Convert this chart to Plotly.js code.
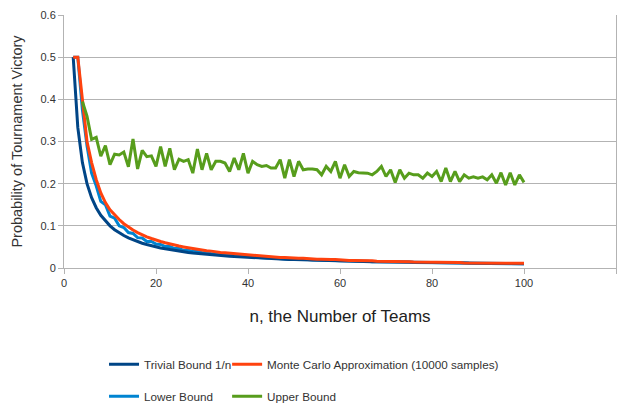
<!DOCTYPE html>
<html>
<head>
<meta charset="utf-8">
<script src="https://cdn.plot.ly/plotly-3.0.1.min.js"></script>
<style>html,body{margin:0;padding:0;background:#fff;}#chart{width:624px;height:404px;}</style>
</head>
<body>
<div id="chart"></div>
<script>
const nTeams = [2,3,4,5,6,7,8,9,10,11,12,13,14,15,16,17,18,19,20,21,22,23,24,25,26,27,28,29,30,31,32,33,34,35,36,37,38,39,40,41,42,43,44,45,46,47,48,49,50,51,52,53,54,55,56,57,58,59,60,61,62,63,64,65,66,67,68,69,70,71,72,73,74,75,76,77,78,79,80,81,82,83,84,85,86,87,88,89,90,91,92,93,94,95,96,97,98,99,100];

const trivialBound = [0.5,0.3333,0.25,0.2,0.1667,0.1429,0.125,0.1111,0.1,0.0909,0.0833,0.0769,0.0714,0.0667,0.0625,0.0588,0.0556,0.0526,0.05,0.0476,0.0455,0.0435,0.0417,0.04,0.0385,0.037,0.0357,0.0345,0.0333,0.0323,0.0313,0.0303,0.0294,0.0286,0.0278,0.027,0.0263,0.0256,0.025,0.0244,0.0238,0.0233,0.0227,0.0222,0.0217,0.0213,0.0208,0.0204,0.02,0.0196,0.0192,0.0189,0.0185,0.0182,0.0179,0.0175,0.0172,0.0169,0.0167,0.0164,0.0161,0.0159,0.0156,0.0154,0.0152,0.0149,0.0147,0.0145,0.0143,0.0141,0.0139,0.0137,0.0135,0.0133,0.0132,0.013,0.0128,0.0127,0.0125,0.0123,0.0122,0.012,0.0119,0.0118,0.0116,0.0115,0.0114,0.0112,0.0111,0.011,0.0109,0.0108,0.0107,0.0106,0.0105,0.0104,0.0103,0.0102,0.0101];

const monteCarlo = [0.5,0.5,0.40,0.30,0.25,0.21,0.178,0.155,0.138,0.126,0.115,0.105,0.097,0.090,0.084,0.078,0.074,0.070,0.066,0.063,0.060,0.057,0.055,0.052,0.050,0.048,0.046,0.044,0.043,0.041,0.040,0.038,0.037,0.036,0.035,0.034,0.033,0.032,0.031,0.030,0.029,0.028,0.027,0.027,0.026,0.025,0.025,0.024,0.024,0.023,0.023,0.022,0.022,0.021,0.021,0.020,0.020,0.020,0.019,0.019,0.018,0.018,0.018,0.017,0.017,0.017,0.016,0.016,0.016,0.016,0.015,0.015,0.015,0.015,0.014,0.014,0.014,0.014,0.014,0.013,0.013,0.013,0.013,0.013,0.013,0.012,0.012,0.012,0.012,0.012,0.012,0.012,0.011,0.011,0.011,0.011,0.011,0.011,0.011];

const lowerBound = [0.5,0.5,0.375,0.29,0.225,0.195,0.158,0.150,0.123,0.118,0.100,0.096,0.084,0.082,0.072,0.071,0.063,0.063,0.057,0.056,0.051,0.051,0.046,0.046,0.042,0.042,0.039,0.039,0.036,0.036,0.034,0.034,0.032,0.032,0.030,0.030,0.028,0.028,0.027,0.026,0.025,0.025,0.024,0.024,0.023,0.022,0.022,0.021,0.021,0.021,0.020,0.020,0.019,0.019,0.019,0.018,0.018,0.018,0.017,0.017,0.017,0.016,0.016,0.016,0.016,0.015,0.015,0.015,0.015,0.014,0.014,0.014,0.014,0.014,0.013,0.013,0.013,0.013,0.013,0.013,0.012,0.012,0.012,0.012,0.012,0.012,0.011,0.011,0.011,0.011,0.011,0.011,0.011,0.011,0.010,0.010,0.010,0.010,0.010];

const upperN = [4,5,6,7,8,9,10,11,12,13,14,15,16,17,18,19,20,21,22,23,24,25,26,27,28,29,30,31,32,33,34,35,36,37,38,39,40,41,42,43,44,45,46,47,48,49,50,51,52,53,54,55,56,57,58,59,60,61,62,63,64,65,66,67,68,69,70,71,72,73,74,75,76,77,78,79,80,81,82,83,84,85,86,87,88,89,90,91,92,93,94,95,96,97,98,99,100];
const upperBound = [0.395,0.36,0.305,0.31,0.265,0.29,0.245,0.27,0.268,0.275,0.24,0.306,0.235,0.279,0.264,0.266,0.241,0.288,0.241,0.284,0.233,0.258,0.253,0.257,0.225,0.282,0.233,0.272,0.233,0.253,0.253,0.249,0.229,0.261,0.233,0.272,0.225,0.253,0.245,0.241,0.243,0.237,0.237,0.257,0.213,0.257,0.217,0.253,0.233,0.235,0.235,0.233,0.221,0.241,0.229,0.253,0.213,0.245,0.217,0.229,0.226,0.226,0.225,0.221,0.229,0.241,0.217,0.233,0.203,0.233,0.213,0.225,0.221,0.221,0.213,0.225,0.217,0.229,0.205,0.237,0.205,0.229,0.205,0.221,0.213,0.216,0.213,0.216,0.209,0.221,0.201,0.226,0.197,0.226,0.197,0.221,0.203];

const names = ['Trivial Bound 1/n','Monte Carlo Approximation (10000 samples)','Lower Bound','Upper Bound'];
const colors = ['#004586','#ff420e','#0084d1','#579d1c'];
const FONT = '"Liberation Sans", Arial, sans-serif';

const mk = (x, y, i, leg) => ({type:'scatter', mode:'lines', x:x, y:y, name:names[i], legend:leg,
  line:{color:colors[i], width:3}});
// lower bound drawn first so the Monte Carlo curve lies on top of it
const traces = [
  mk(nTeams, lowerBound, 2, 'legend3'),
  mk(nTeams, trivialBound, 0, 'legend'),
  mk(nTeams, monteCarlo, 1, 'legend2'),
  mk(upperN, upperBound, 3, 'legend4')
];

const legendCommon = {orientation:'h', xanchor:'left', yanchor:'top', itemwidth:30,
  font:{family:FONT,size:11.7,color:'#333'}, bgcolor:'rgba(0,0,0,0)'};
const colX = [0.0725, 0.2955];
const rowY = [-0.323, -0.4495];

const layout = {
  width:624, height:404,
  margin:{l:64,r:8,t:15,b:136,autoexpand:false},
  paper_bgcolor:'#fff', plot_bgcolor:'#fff',
  font:{family:FONT,size:11,color:'#333'},
  showlegend:true,
  xaxis:{range:[0,120], dtick:20, tick0:0, showgrid:false, zeroline:false, showline:true, linecolor:'#b3b3b3', linewidth:1,
    ticks:'outside', ticklen:5, tickcolor:'#b3b3b3', tickfont:{family:FONT,size:11,color:'#333'},
    title:{text:'n, the Number of Teams', font:{family:FONT,size:17,color:'#222'}, standoff:21}},
  yaxis:{range:[0,0.6], dtick:0.1, tick0:0, showgrid:true, gridcolor:'#b3b3b3', gridwidth:1, zeroline:false, showline:true, mirror:true,
    linecolor:'#b3b3b3', linewidth:1, ticks:'outside', ticklen:5, tickcolor:'#b3b3b3', tickfont:{family:FONT,size:11,color:'#333'},
    title:{text:'Probability of Tournament Victory', font:{family:FONT,size:14.5,color:'#333'}, standoff:14}},
  legend:Object.assign({}, legendCommon, {x:colX[0], y:rowY[0]}),
  legend2:Object.assign({}, legendCommon, {x:colX[1], y:rowY[0]}),
  legend3:Object.assign({}, legendCommon, {x:colX[0], y:rowY[1]}),
  legend4:Object.assign({}, legendCommon, {x:colX[1], y:rowY[1]})
};

Plotly.newPlot('chart', traces, layout, {displayModeBar:false, staticPlot:true});
</script>
</body>
</html>
